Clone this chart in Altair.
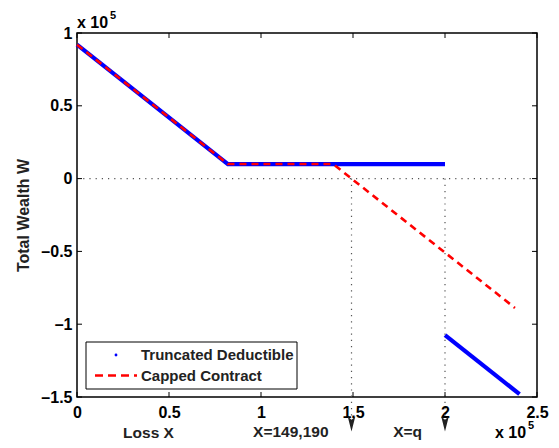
import altair as alt
import pandas as pd

# ---- data ----
td_x = [0, 82000, 200000]
td_w = [92000, 10000, 10000]
td2_x = [200000, 240500]
td2_w = [-107500, -148000]
cc_x = [0, 82000, 139190, 238000]
cc_w = [92000, 10000, 10000, -88810]
x_ticks = [0, 50000, 100000, 150000, 200000, 250000]
y_ticks = [-150000, -100000, -50000, 0, 50000, 100000]
mark_x = [149190, 200000]
mark_lbl = ["X=149,190", "X=q"]
series_names = ["Truncated Deductible", "Capped Contract"]

W, H = 460, 364
FONT = "Liberation Sans"
FS = 16

blue = pd.DataFrame({"X": td_x + td2_x, "W": td_w + td2_w,
                     "seg": [1] * len(td_x) + [2] * len(td2_x)})
red = pd.DataFrame({"X": cc_x, "W": cc_w})
marks = pd.DataFrame({"X": mark_x, "lbl": mark_lbl, "y0": [0, 0]})
zero = pd.DataFrame({"y0": [0]})
xt = pd.DataFrame({"t": x_ticks})
yt = pd.DataFrame({"t": y_ticks})

xs = alt.Scale(domain=[0, 250000], nice=False, zero=False)
ys = alt.Scale(domain=[-150000, 100000], nice=False, zero=False)

xaxis = alt.Axis(values=x_ticks, ticks=False, domain=False, grid=False, labelFlush=False,
                 labelExpr="format(datum.value/100000, '~g')",
                 labelFont=FONT, labelFontWeight="bold", labelFontSize=FS,
                 labelPadding=7, labelColor="black",
                 title="Loss X", titleFont=FONT, titleFontWeight="bold",
                 titleFontSize=15.5, titleColor="#222",
                 titleX=71, titleY=35, titleAlign="center", titleBaseline="middle")
yaxis = alt.Axis(values=y_ticks, ticks=False, domain=False, grid=False, labelFlush=False,
                 labelExpr="(datum.value < 0 ? '\u2013' : '') + format(abs(datum.value)/100000, '~g')",
                 labelFont=FONT, labelFontWeight="bold", labelFontSize=FS,
                 labelPadding=5, labelColor="black",
                 title="Total Wealth W", titleFont=FONT, titleFontWeight="bold",
                 titleFontSize=FS, titleColor="#222", titleAngle=-90,
                 titleX=-54, titleY=H / 2, titleAlign="center", titleBaseline="middle")

base_x = alt.X("X:Q", scale=xs, axis=xaxis)
base_y = alt.Y("W:Q", scale=ys, axis=yaxis)

blue_line = alt.Chart(blue).mark_line(color="#0000FF", strokeWidth=4.2, strokeCap="butt").encode(
    x=base_x, y=base_y, detail="seg:N")
red_line = alt.Chart(red).mark_line(color="#FF0000", strokeWidth=2.6, strokeDash=[7, 5]).encode(
    x=alt.X("X:Q", scale=xs), y=alt.Y("W:Q", scale=ys))

hline = alt.Chart(zero).mark_rule(color="#555", strokeWidth=1.2, strokeDash=[1.2, 5]).encode(
    y=alt.Y("y0:Q", scale=ys))
vlines = alt.Chart(marks).mark_rule(color="#555", strokeWidth=1.2, strokeDash=[1.2, 5]).encode(
    x=alt.X("X:Q", scale=xs), y=alt.Y("y0:Q", scale=ys), y2=alt.value(H + 22))
arrows = alt.Chart(marks).mark_point(
    shape="M-0.5,-1L0,1L0.5,-1L0,-0.55Z", filled=True, color="#222", size=230, opacity=1).encode(
    x=alt.X("X:Q", scale=xs), y=alt.value(H + 27))
mlabels = alt.Chart(marks).mark_text(
    font=FONT, fontWeight="bold", fontSize=15.5, color="#222", align="right",
    baseline="middle", dx=-23).encode(
    x=alt.X("X:Q", scale=xs), y=alt.value(H + 35), text="lbl:N")

# inward ticks on all four sides
tb = alt.Chart(xt).mark_rule(color="black", strokeWidth=1).encode(
    x=alt.X("t:Q", scale=xs), y=alt.value(H), y2=alt.value(H - 5))
tt = alt.Chart(xt).mark_rule(color="black", strokeWidth=1).encode(
    x=alt.X("t:Q", scale=xs), y=alt.value(0), y2=alt.value(5))
tl = alt.Chart(yt).mark_rule(color="black", strokeWidth=1).encode(
    y=alt.Y("t:Q", scale=ys), x=alt.value(0), x2=alt.value(5))
tr = alt.Chart(yt).mark_rule(color="black", strokeWidth=1).encode(
    y=alt.Y("t:Q", scale=ys), x=alt.value(W), x2=alt.value(W - 5))

# exponent annotations
exp_df = pd.DataFrame({"a": ["x 10"], "b": ["5"]})
exp_top = alt.Chart(exp_df).mark_text(font=FONT, fontWeight="bold", fontSize=FS, color="black",
                                      align="left", baseline="alphabetic").encode(
    x=alt.value(0), y=alt.value(-5), text="a:N")
exp_top5 = alt.Chart(exp_df).mark_text(font=FONT, fontWeight="bold", fontSize=11, color="black",
                                       align="left", baseline="alphabetic").encode(
    x=alt.value(33), y=alt.value(-14), text="b:N")
exp_bot = alt.Chart(exp_df).mark_text(font=FONT, fontWeight="bold", fontSize=FS, color="black",
                                      align="left", baseline="alphabetic").encode(
    x=alt.value(418), y=alt.value(H + 41), text="a:N")
exp_bot5 = alt.Chart(exp_df).mark_text(font=FONT, fontWeight="bold", fontSize=11, color="black",
                                       align="left", baseline="alphabetic").encode(
    x=alt.value(451), y=alt.value(H + 32), text="b:N")

# legend
leg_box = alt.Chart(zero).mark_rect(fill="white", stroke="black", strokeWidth=1).encode(
    x=alt.value(9), x2=alt.value(220), y=alt.value(309), y2=alt.value(356))
leg_dot = alt.Chart(zero).mark_point(filled=True, color="#0000FF", size=8, opacity=1).encode(
    x=alt.value(39), y=alt.value(322))
leg_dash = alt.Chart(zero).mark_rule(color="#FF0000", strokeWidth=2.6, strokeDash=[8, 5]).encode(
    x=alt.value(18), x2=alt.value(60), y=alt.value(342.5))
leg_txt = alt.Chart(pd.DataFrame({"n": series_names, "yy": [322, 342.5]})).mark_text(
    font=FONT, fontWeight="bold", fontSize=15, color="#222", align="left", baseline="middle").encode(
    x=alt.value(64), y=alt.Y("yy:Q", scale=None), text="n:N")

chart = alt.layer(
    blue_line, hline, vlines, red_line, arrows, mlabels,
    tb, tt, tl, tr, exp_top, exp_top5, exp_bot, exp_bot5,
    leg_box, leg_dot, leg_dash, leg_txt
).properties(
    width=W, height=H,
    autosize=alt.AutoSizeParams(type="none"),
    padding={"left": 69, "top": 25, "right": 14, "bottom": 43},
    background="white"
).configure_view(stroke="black", strokeWidth=1.5)

chart.save("out.html", embed_options={"renderer": "svg", "actions": False})
